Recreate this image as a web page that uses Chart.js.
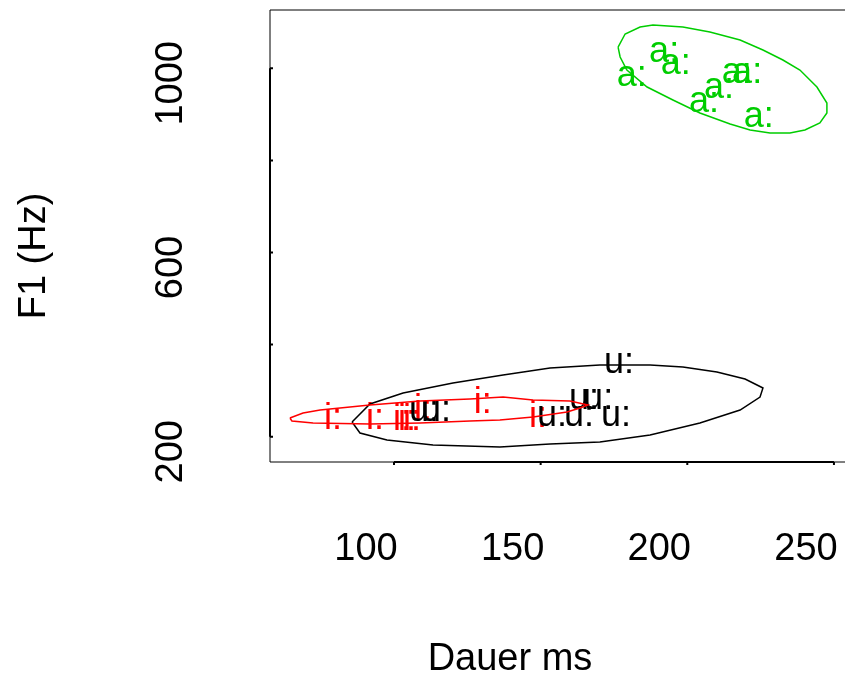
<!DOCTYPE html>
<html>
<head>
<meta charset="utf-8">
<script src="https://cdn.jsdelivr.net/npm/chart.js@4.4.1/dist/chart.umd.min.js"></script>
<style>
  html, body { margin: 0; padding: 0; background: #fff; overflow: hidden; }
  canvas { display: block; }
</style>
</head>
<body>
<canvas id="formantPlot" width="845" height="677"></canvas>
<script>
const FONT = '"Liberation Sans", Arial, Helvetica, sans-serif';

// vowel tokens: duration (ms) against F1 (Hz)
const aDauer = [181.1, 192.1, 196.1, 216.9, 220.4, 210.8, 205.7, 224.4];
const aF1    = [983, 1035, 1009, 988, 988, 957, 925, 892];

const iDauer = [79.2, 93.5, 102.7, 104.4, 106.1, 109.9, 130.3, 149.1];
const iF1    = [238, 238, 236, 236, 234, 256, 271, 241];

const uDauer = [110.2, 114.3, 176.7, 164.8, 169.6, 153.9, 163.1, 175.7];
const uF1    = [254, 254, 358, 280, 280, 243, 243, 243];

// ellipse outlines per vowel
const aEllX = [176.4, 178.8, 183.9, 188.3, 198.5, 207.7, 218.0, 225.8, 232.6, 238.4, 244.2, 247.6,
               247.6, 245.2, 240.1, 235.0, 228.2, 221.4, 214.6, 204.3, 195.1, 186.3, 179.4, 177.1];
const aEllY = [1046, 1074.5, 1089.7, 1094.1, 1089.7, 1078.8, 1061.4, 1039.7, 1018, 996.3, 959.4, 924.6,
               902.9, 881.2, 866, 859.5, 859.5, 866, 879, 902.9, 931.1, 959.4, 996.3, 1024.5];

const uEllX = [85.7, 91.8, 103.1, 120.1, 137.2, 153.2, 170.2, 187.3, 198.5, 210.1, 219.7,
               225.8, 224.8, 218.0, 204.3, 187.3, 170.2, 153.2, 136.1, 113.3, 97.6, 88.4];
const uEllY = [231.9, 271, 294.9, 316.6, 334, 349.2, 355.7, 355.7, 351.4, 340.5, 325.3,
               305.8, 286.2, 258, 229.8, 203.7, 188.5, 184.2, 177.7, 182, 192.8, 208];

const iEllX = [64.5, 69.0, 74.8, 91.8, 108.9, 125.9, 137.2, 147.4, 160.0, 166.1,
               163.4, 159.0, 147.4, 136.1, 125.9, 108.9, 91.8, 72.4, 65.2];
const iEllY = [240.6, 251.5, 258, 268.9, 277.5, 281.9, 286.2, 279.7, 277.5, 268.9,
               262.3, 253.6, 242.8, 236.3, 234.1, 229.8, 227.6, 229.8, 234.1];

const xTicks = [100, 150, 200, 250];
const yTicks = [200, 400, 600, 800, 1000];
const yTickLabels = ['200', '', '600', '', '1000'];

const xTitle = 'Dauer ms';
const yTitle = 'F1 (Hz)';

const GREEN = '#00CD00';
const RED = '#FF0000';
const BLACK = '#000000';

function points(xs, ys) {
  return xs.map((x, i) => ({ x: x, y: ys[i] }));
}

function closed(xs, ys) {
  const pts = points(xs, ys);
  pts.push(pts[0]);
  return pts;
}

function tokenSet(label, xs, ys, color) {
  return {
    label: label, token: label, data: points(xs, ys),
    borderColor: color, backgroundColor: color,
    pointRadius: 0, showLine: false
  };
}

function ellipseSet(label, xs, ys, color) {
  return {
    label: label, data: closed(xs, ys),
    borderColor: color, borderWidth: 1.5,
    pointRadius: 0, showLine: true, tension: 0, fill: false
  };
}

// vowel symbols written at each token position
const vowelLabels = {
  id: 'vowelLabels',
  beforeDatasetsDraw(chart) {
    const ctx = chart.ctx;
    ctx.save();
    ctx.font = '36px ' + FONT;
    ctx.textAlign = 'center';
    ctx.textBaseline = 'alphabetic';
    chart.data.datasets.forEach((ds, i) => {
      if (!ds.token) return;
      ctx.fillStyle = ds.borderColor;
      chart.getDatasetMeta(i).data.forEach(pt => {
        ctx.fillText(ds.token, pt.x, pt.y + 9.4);
      });
    });
    ctx.restore();
  }
};

// box, axis lines, tick marks and axis titles
const frame = {
  id: 'frame',
  afterDraw(chart) {
    const { ctx, chartArea: a } = chart;
    const x = chart.scales.x, y = chart.scales.y;
    ctx.save();
    ctx.strokeStyle = BLACK;
    ctx.lineWidth = 1;
    ctx.beginPath();
    ctx.moveTo(a.right + 2, a.top);
    ctx.lineTo(a.left, a.top);
    ctx.lineTo(a.left, a.bottom);
    ctx.lineTo(a.right + 2, a.bottom);
    ctx.stroke();

    ctx.lineWidth = 2;
    ctx.beginPath();
    ctx.moveTo(x.getPixelForValue(xTicks[0]), a.bottom);
    ctx.lineTo(x.getPixelForValue(xTicks[xTicks.length - 1]), a.bottom);
    ctx.moveTo(a.left, y.getPixelForValue(yTicks[0]));
    ctx.lineTo(a.left, y.getPixelForValue(yTicks[yTicks.length - 1]));
    xTicks.forEach(v => {
      const px = x.getPixelForValue(v);
      ctx.moveTo(px, a.bottom);
      ctx.lineTo(px, a.bottom + 3);
    });
    yTicks.forEach(v => {
      const py = y.getPixelForValue(v);
      ctx.moveTo(a.left, py);
      ctx.lineTo(a.left + 3, py);
    });
    ctx.stroke();

    ctx.fillStyle = BLACK;
    ctx.font = '38px ' + FONT;
    ctx.textAlign = 'center';
    ctx.textBaseline = 'alphabetic';
    ctx.fillText(xTitle, 510, 670);
    ctx.translate(45, 256);
    ctx.rotate(-Math.PI / 2);
    ctx.fillText(yTitle, 0, 0);
    ctx.restore();
  }
};

new Chart(document.getElementById('formantPlot'), {
  type: 'scatter',
  data: {
    datasets: [
      tokenSet('a:', aDauer, aF1, GREEN),
      tokenSet('i:', iDauer, iF1, RED),
      tokenSet('u:', uDauer, uF1, BLACK),
      ellipseSet('a: Ellipse', aEllX, aEllY, GREEN),
      ellipseSet('i: Ellipse', iEllX, iEllY, RED),
      ellipseSet('u: Ellipse', uEllX, uEllY, BLACK)
    ]
  },
  options: {
    responsive: false,
    animation: false,
    layout: { padding: { top: 10, left: 0, right: 0, bottom: 0 } },
    plugins: {
      legend: { display: false },
      tooltip: { enabled: false }
    },
    scales: {
      x: {
        type: 'linear',
        min: 57.72,
        max: 253.77,
        grid: { display: false, drawTicks: false },
        border: { display: false },
        afterBuildTicks(scale) {
          scale.ticks = xTicks.map(v => ({ value: v }));
        },
        afterFit(scale) {
          scale.height = 215;
          scale.paddingLeft = 0;
          scale.paddingRight = 0;
        },
        ticks: {
          color: BLACK,
          font: { family: FONT, size: 38 },
          padding: 65,
          labelOffset: -28,
          maxRotation: 0,
          autoSkip: false
        }
      },
      y: {
        type: 'linear',
        min: 145.1,
        max: 1126.6,
        grid: { display: false, drawTicks: false },
        border: { display: false },
        afterBuildTicks(scale) {
          scale.ticks = yTicks.map(v => ({ value: v }));
        },
        afterFit(scale) {
          scale.width = 270;
          scale.paddingTop = 0;
          scale.paddingBottom = 0;
        },
        ticks: {
          color: BLACK,
          font: { family: FONT, size: 38 },
          padding: 56,
          labelOffset: 15,
          minRotation: 90,
          maxRotation: 90,
          crossAlign: 'center',
          autoSkip: false,
          callback: (value, index) => yTickLabels[index]
        }
      }
    }
  },
  plugins: [vowelLabels, frame]
});
</script>
</body>
</html>
